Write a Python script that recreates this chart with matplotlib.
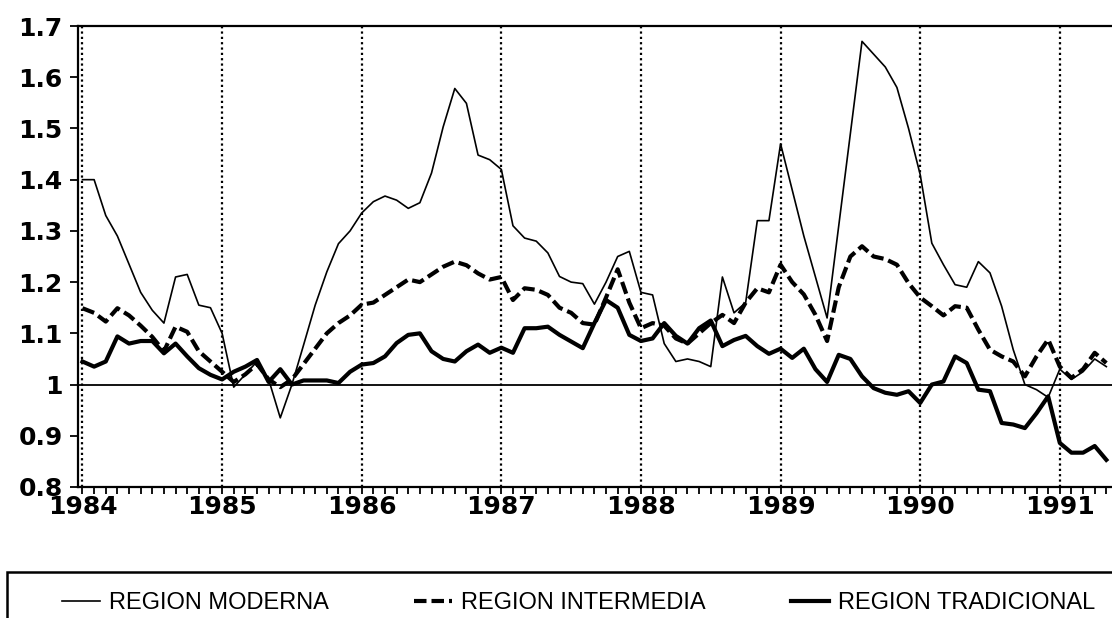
import numpy as np
import matplotlib
matplotlib.use("Agg")
import matplotlib.pyplot as plt
from matplotlib.patches import Rectangle
from matplotlib.ticker import MultipleLocator, FixedLocator

# ---- data (monthly, Jan 1984 .. May 1991) ----
start_year = 1984
moderna = [1.40, 1.40, 1.33, 1.29, 1.235, 1.18, 1.145, 1.12, 1.21, 1.215, 1.155, 1.15,
           1.10, 0.995, 1.02, 1.045, 1.01, 0.935, 1.00, 1.077, 1.155, 1.22, 1.275, 1.30,
           1.335, 1.357, 1.368, 1.36, 1.344, 1.355, 1.413, 1.503, 1.578, 1.549, 1.448, 1.439,
           1.42, 1.31, 1.286, 1.28, 1.257, 1.211, 1.20, 1.197, 1.157, 1.20, 1.25, 1.26,
           1.18, 1.175, 1.08, 1.045, 1.05, 1.045, 1.035, 1.21, 1.14, 1.16, 1.32, 1.32,
           1.47, 1.38, 1.29, 1.21, 1.13, 1.31, 1.49, 1.67, 1.645, 1.62, 1.58, 1.50,
           1.41, 1.276, 1.234, 1.195, 1.19, 1.24, 1.218, 1.153, 1.068, 1.00, 0.99, 0.975,
           1.03, 1.01, 1.025, 1.05, 1.035]
intermedia = [1.149, 1.14, 1.123, 1.149, 1.135, 1.115, 1.093, 1.065, 1.113, 1.103, 1.065, 1.045,
              1.025, 1.005, 1.02, 1.04, 1.01, 0.995, 1.01, 1.04, 1.07, 1.10, 1.12, 1.135,
              1.156, 1.16, 1.175, 1.19, 1.205, 1.20, 1.215, 1.23, 1.24, 1.233, 1.217, 1.205,
              1.21, 1.165, 1.188, 1.185, 1.175, 1.15, 1.14, 1.12, 1.117, 1.17, 1.225, 1.16,
              1.11, 1.12, 1.115, 1.09, 1.08, 1.10, 1.12, 1.136, 1.12, 1.16, 1.188, 1.18,
              1.234, 1.20, 1.176, 1.136, 1.085, 1.19, 1.25, 1.27, 1.25, 1.245, 1.234, 1.198,
              1.17, 1.153, 1.135, 1.153, 1.15, 1.107, 1.068, 1.055, 1.045, 1.016, 1.055, 1.088,
              1.035, 1.013, 1.03, 1.062, 1.042]
tradicional = [1.045, 1.035, 1.045, 1.094, 1.08, 1.085, 1.085, 1.061, 1.08, 1.055, 1.032, 1.019,
               1.01, 1.025, 1.035, 1.048, 1.005, 1.03, 1.0, 1.008, 1.008, 1.008, 1.003, 1.025,
               1.039, 1.042, 1.055, 1.081, 1.097, 1.10, 1.065, 1.05, 1.045, 1.065, 1.078, 1.062,
               1.072, 1.062, 1.11, 1.11, 1.113, 1.097, 1.084, 1.071, 1.12, 1.165, 1.15, 1.097,
               1.085, 1.09, 1.12, 1.095, 1.08, 1.11, 1.125, 1.075, 1.087, 1.095, 1.075, 1.06,
               1.07, 1.052, 1.07, 1.03, 1.005, 1.058, 1.05, 1.016, 0.993, 0.984, 0.98, 0.987,
               0.964, 1.0, 1.006, 1.055, 1.042, 0.99, 0.987, 0.925, 0.922, 0.915, 0.944, 0.977,
               0.886, 0.867, 0.867, 0.88, 0.853]
labels = ["REGION MODERNA", "REGION INTERMEDIA", "REGION TRADICIONAL"]
year_ticks = [1984, 1985, 1986, 1987, 1988, 1989, 1990, 1991]
y_ticks = [0.8, 0.9, 1.0, 1.1, 1.2, 1.3, 1.4, 1.5, 1.6, 1.7]
y_ticklabels = ["0.8", "0.9", "1", "1.1", "1.2", "1.3", "1.4", "1.5", "1.6", "1.7"]

t = start_year + np.arange(len(moderna)) / 12.0

W, H = 1112, 618
fig = plt.figure(figsize=(W / 100, H / 100), dpi=100)
ax = fig.add_axes([78 / W, (H - 487) / H, (W - 78) / W + 0.01, (487 - 26) / H])

# reference lines
for yr in year_ticks:
    ax.axvline(yr, color="black", lw=1.6, ls=(0, (1, 1.4)), zorder=1)
ax.axhline(1.0, color="black", lw=1.3, zorder=1)

ax.plot(t, moderna, color="black", lw=1.2, label=labels[0], zorder=3)
ax.plot(t, intermedia, color="black", lw=3.0, ls=(0, (3, 1.2)), label=labels[1], zorder=3)
ax.plot(t, tradicional, color="black", lw=3.0, label=labels[2], zorder=3)

ax.set_xlim(1984 - 4.5 / 140, 1984 + (W - 82.5) / 140 + 0.1)
ax.set_ylim(0.8, 1.7)

ax.xaxis.set_major_locator(FixedLocator(year_ticks))
ax.xaxis.set_minor_locator(MultipleLocator(1 / 12))
ax.set_xticks(year_ticks)
ax.set_xticklabels([str(y) for y in year_ticks])
ax.set_yticks(y_ticks)
ax.set_yticklabels(y_ticklabels)

for lab in ax.get_xticklabels() + ax.get_yticklabels():
    lab.set_fontfamily("DejaVu Sans")
    lab.set_fontweight("bold")
    lab.set_fontsize(18)

ax.tick_params(axis="x", which="major", direction="out", length=5, width=1.3, pad=0.5)
ax.tick_params(axis="x", which="minor", direction="out", length=5, width=1.3)
ax.tick_params(axis="y", which="major", direction="out", length=6, width=1.3, pad=5)

for s in ["left", "bottom", "top"]:
    ax.spines[s].set_linewidth(1.6)
ax.spines["right"].set_visible(False)

# legend (box drawn separately, extends past figure edges)
leg = fig.legend(loc="center left", bbox_to_anchor=(62 / W, 1 - 603 / H),
                 ncol=3, frameon=False, handlelength=1.6, handletextpad=0.4,
                 columnspacing=3.6, borderpad=0, borderaxespad=0,
                 prop=dict(family="Liberation Sans", size=17))
box = Rectangle((7 / W, -0.05), 1.2, (H - 572) / H + 0.05, transform=fig.transFigure,
                fill=False, edgecolor="black", lw=1.8, clip_on=False)
fig.add_artist(box)

fig.savefig("out.png", dpi=100)
